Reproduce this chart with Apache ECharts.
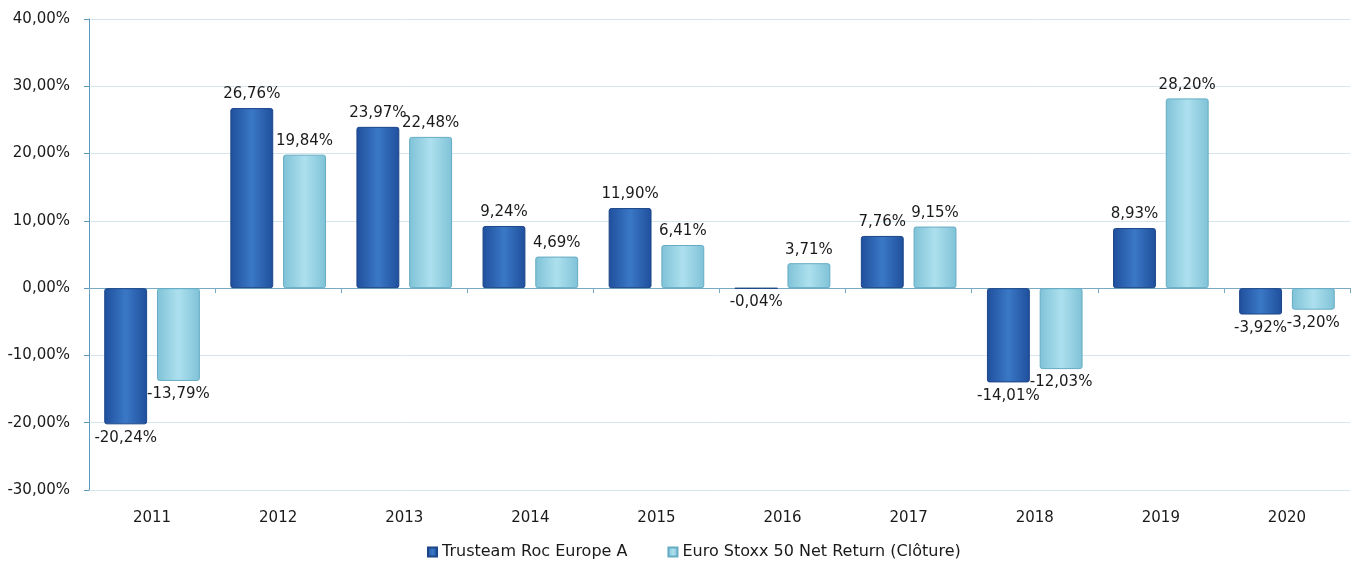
<!DOCTYPE html>
<html>
<head>
<meta charset="utf-8">
<script src="https://cdn.jsdelivr.net/npm/echarts@6/dist/echarts.min.js"></script>
<style>
  html, body { margin: 0; padding: 0; background: #fff; }
  #box { width: 1359px; height: 567px; }
</style>
</head>
<body>
<div id="box"></div>
<script>
var years = ['2011', '2012', '2013', '2014', '2015', '2016', '2017', '2018', '2019', '2020'];
var fundName = 'Trusteam Roc Europe A';
var indexName = 'Euro Stoxx 50 Net Return (Clôture)';
var fundValues = [-20.24, 26.76, 23.97, 9.24, 11.90, -0.04, 7.76, -14.01, 8.93, -3.92];
var indexValues = [-13.79, 19.84, 22.48, 4.69, 6.41, 3.71, 9.15, -12.03, 28.20, -3.20];
var yTicks = [-30, -20, -10, 0, 10, 20, 30, 40];

var myChart = echarts.init(document.getElementById('box'));

function pct(v) {
  return v.toFixed(2).replace('.', ',') + '%';
}

// dégradé horizontal pour l'effet "relief"
function grad(edge, mid) {
  return new echarts.graphic.LinearGradient(0, 0, 1, 0, [
    { offset: 0, color: edge },
    { offset: 0.5, color: mid },
    { offset: 1, color: edge }
  ]);
}

function items(values) {
  return values.map(function (v) {
    return {
      value: v,
      label: { position: v < 0 ? 'bottom' : 'top' }
    };
  });
}

var labelOption = {
  show: true,
  distance: 6,
  color: '#1a1a1a',
  fontFamily: 'DejaVu Sans',
  fontSize: 15,
  formatter: function (p) { return pct(p.value); }
};

var option = {
  animation: false,
  textStyle: { fontFamily: 'DejaVu Sans' },
  grid: { left: 89, right: 9, top: 19, bottom: 77 },
  legend: {
    bottom: 2,
    left: 422,
    itemWidth: 9,
    itemHeight: 9,
    itemGap: 40,
    icon: 'rect',
    textStyle: { color: '#1a1a1a', fontSize: 16, fontFamily: 'DejaVu Sans' },
    data: [fundName, indexName]
  },
  xAxis: [{
    type: 'category',
    data: years,
    axisLine: { show: false, onZero: false },
    axisTick: { show: false },
    axisLabel: { color: '#1a1a1a', fontSize: 15, margin: 21 }
  }, {
    type: 'category',
    data: years,
    position: 'bottom',
    axisLine: { show: true, onZero: true, lineStyle: { color: '#7aa9c4', width: 1 } },
    axisTick: { show: true, length: 5, lineStyle: { color: '#7aa9c4' } },
    axisLabel: { show: false }
  }],
  yAxis: {
    type: 'value',
    min: yTicks[0],
    max: yTicks[yTicks.length - 1],
    interval: 10,
    axisLine: { show: true, lineStyle: { color: '#5d9bbd' } },
    axisTick: { show: true, length: 5, lineStyle: { color: '#5d9bbd' } },
    splitLine: { show: true, lineStyle: { color: '#d5e5ec' } },
    axisLabel: {
      color: '#1a1a1a',
      fontSize: 15,
      margin: 19,
      formatter: function (v) { return pct(v); }
    }
  },
  series: [{
    name: fundName,
    type: 'bar',
    xAxisIndex: 0,
    barWidth: '34%',
    barGap: '23%',
    data: items(fundValues),
    label: labelOption,
    itemStyle: {
      color: grad('#1f4f9c', '#3a78c6'),
      borderColor: '#1c4688',
      borderWidth: 1,
      borderRadius: 2
    }
  }, {
    name: indexName,
    type: 'bar',
    xAxisIndex: 0,
    barWidth: '34%',
    data: items(indexValues),
    label: labelOption,
    itemStyle: {
      color: grad('#7fc2d7', '#ade0ee'),
      borderColor: '#65abc4',
      borderWidth: 1,
      borderRadius: 2
    }
  }]
};

myChart.setOption(option);
</script>
</body>
</html>
